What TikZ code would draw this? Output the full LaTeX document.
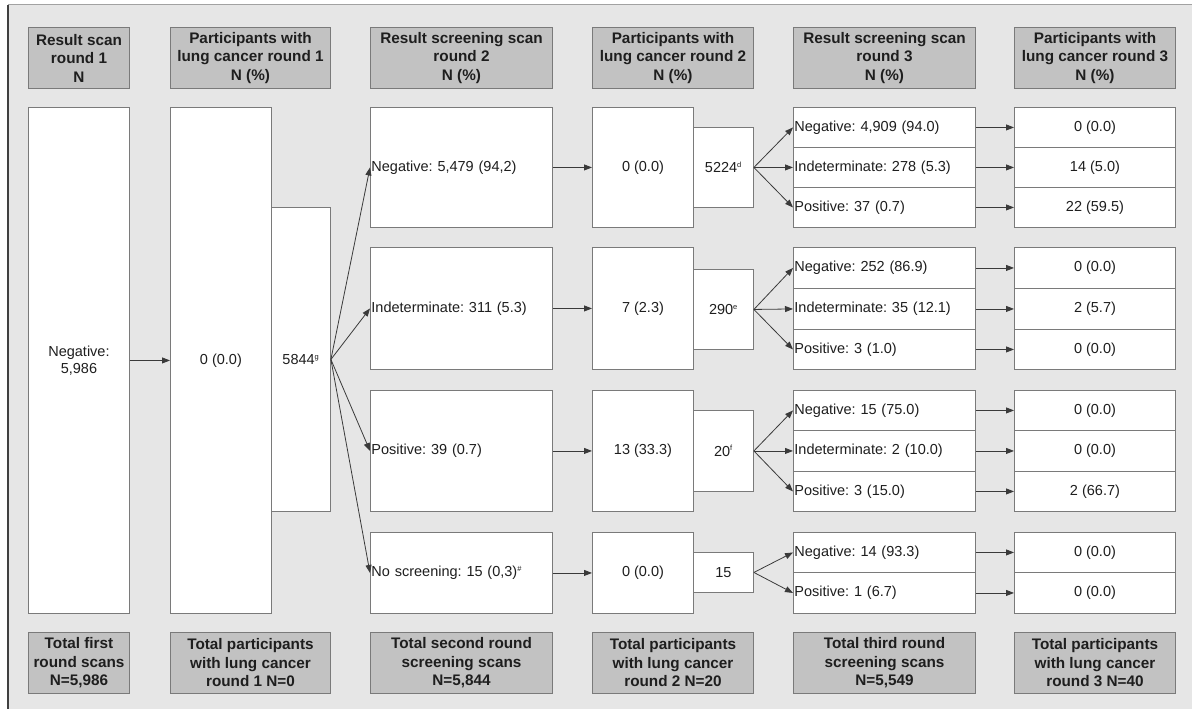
\documentclass[tikz,border=0pt]{standalone}
\usepackage{fontspec}
\setmainfont{Liberation Sans}
\usetikzlibrary{arrows.meta}
\definecolor{bg}{HTML}{E6E6E6}
\definecolor{hdrfill}{HTML}{C2C2C2}
\definecolor{edge}{HTML}{7A7A7A}
\definecolor{ink}{HTML}{1E1E1E}
\definecolor{arr}{HTML}{3A3A3A}
\frenchspacing
\newcommand{\sups}[1]{\textsuperscript{\fontsize{7.5}{7.5}\selectfont #1}}
\tikzset{
  sz/.style 2 args={minimum width=#1pt, minimum height=#2pt, anchor=north west},
  hdr/.style={draw=edge, fill=hdrfill, line width=1pt, inner sep=0pt, align=center,
    text=ink, font=\fontsize{15.3}{18.5}\selectfont\bfseries},
  wbox/.style={draw=edge, fill=white, line width=0.9pt, inner sep=0pt, align=center,
    text=ink, font=\fontsize{14.5}{17}\selectfont},
  lbox/.style={draw=edge, fill=white, line width=0.9pt, inner xsep=1pt, inner ysep=0pt,
    text width=#1pt, align=left, text=ink, font=\fontsize{14.5}{17}\selectfont},
  conn/.style={draw=arr, line width=0.8pt, -{Triangle[length=8pt,width=6pt]}}
}
\begin{document}
\begin{tikzpicture}[x=1pt,y=-1pt]
\useasboundingbox (0,0) rectangle (1192,709);
\fill[bg] (8,5) rectangle (1192,709);
\draw[edge!70, line width=1pt] (8,5) -- (1192,5);
\draw[black!75, line width=1.6pt] (8,5) -- (8,709);

% headers
\node[hdr, sz={101}{61}] (h1) at (28,27) {Result scan\\round 1\\N};
\node[hdr, sz={160}{61}] (h2) at (170,27) {Participants with\\lung cancer round 1\\N (\%)};
\node[hdr, sz={182}{61}] (h3) at (370,27) {Result screening scan\\round 2\\N (\%)};
\node[hdr, sz={161}{61}] (h4) at (592,27) {Participants with\\lung cancer round 2\\N (\%)};
\node[hdr, sz={182}{61}] (h5) at (793,27) {Result screening scan\\round 3\\N (\%)};
\node[hdr, sz={161}{61}] (h6) at (1014,27) {Participants with\\lung cancer round 3\\N (\%)};

% footers
\node[hdr, sz={101}{61}] (f1) at (28,632) {Total first\\round scans\\N=5,986};
\node[hdr, sz={160}{61}] (f2) at (170,632) {Total participants\\with lung cancer\\round 1 N=0};
\node[hdr, sz={182}{61}] (f3) at (370,632) {Total second round\\screening scans\\N=5,844};
\node[hdr, sz={161}{61}] (f4) at (592,632) {Total participants\\with lung cancer\\round 2 N=20};
\node[hdr, sz={182}{61}] (f5) at (793,632) {Total third round\\screening scans\\N=5,549};
\node[hdr, sz={161}{61}] (f6) at (1014,632) {Total participants\\with lung cancer\\round 3 N=40};

% column 1 and 2
\node[wbox, sz={101}{506}] (c1) at (28,107) {Negative:\\5,986};
\node[wbox, sz={101}{506}] (c2) at (170,107) {0 (0.0)};
\node[wbox, sz={59}{304}] (c2s) at (271,207) {5844\sups{g}};

% column 3
\node[lbox=180, sz={182}{120}] (c3a) at (370,107) {Negative: 5,479 (94,2)};
\node[lbox=180, sz={182}{122}] (c3b) at (370,247) {Indeterminate: 311 (5.3)};
\node[lbox=180, sz={182}{121}] (c3c) at (370,390) {Positive: 39 (0.7)};
\node[lbox=180, sz={182}{81}] (c3d) at (370,532) {No screening: 15 (0,3)\sups{\#}};

% column 4
\node[wbox, sz={101}{120}] (c4a) at (592,107) {0 (0.0)};
\node[wbox, sz={101}{122}] (c4b) at (592,247) {7 (2.3)};
\node[wbox, sz={101}{121}] (c4c) at (592,390) {13 (33.3)};
\node[wbox, sz={101}{81}] (c4d) at (592,532) {0 (0.0)};
\node[wbox, sz={60}{80}] (s4a) at (693,127) {5224\sups{d}};
\node[wbox, sz={60}{80}] (s4b) at (693,269) {290\sups{e}};
\node[wbox, sz={60}{81}] (s4c) at (693,410) {20\sups{f}};
\node[wbox, sz={60}{40}] (s4d) at (693,552) {15};

% column 5
\node[lbox=180, sz={182}{40}] (r1a) at (793,107) {Negative: 4,909 (94.0)};
\node[lbox=180, sz={182}{40}] (r1b) at (793,147) {Indeterminate: 278 (5.3)};
\node[lbox=180, sz={182}{40}] (r1c) at (793,187) {Positive: 37 (0.7)};
\node[lbox=180, sz={182}{41}] (r2a) at (793,247) {Negative: 252 (86.9)};
\node[lbox=180, sz={182}{41}] (r2b) at (793,288) {Indeterminate: 35 (12.1)};
\node[lbox=180, sz={182}{40}] (r2c) at (793,329) {Positive: 3 (1.0)};
\node[lbox=180, sz={182}{40}] (r3a) at (793,390) {Negative: 15 (75.0)};
\node[lbox=180, sz={182}{41}] (r3b) at (793,430) {Indeterminate: 2 (10.0)};
\node[lbox=180, sz={182}{40}] (r3c) at (793,471) {Positive: 3 (15.0)};
\node[lbox=180, sz={182}{40}] (r4a) at (793,532) {Negative: 14 (93.3)};
\node[lbox=180, sz={182}{41}] (r4b) at (793,572) {Positive: 1 (6.7)};

% column 6
\node[wbox, sz={161}{40}] (p1a) at (1014,107) {0 (0.0)};
\node[wbox, sz={161}{40}] (p1b) at (1014,147) {14 (5.0)};
\node[wbox, sz={161}{40}] (p1c) at (1014,187) {22 (59.5)};
\node[wbox, sz={161}{41}] (p2a) at (1014,247) {0 (0.0)};
\node[wbox, sz={161}{41}] (p2b) at (1014,288) {2 (5.7)};
\node[wbox, sz={161}{40}] (p2c) at (1014,329) {0 (0.0)};
\node[wbox, sz={161}{40}] (p3a) at (1014,390) {0 (0.0)};
\node[wbox, sz={161}{41}] (p3b) at (1014,430) {0 (0.0)};
\node[wbox, sz={161}{40}] (p3c) at (1014,471) {2 (66.7)};
\node[wbox, sz={161}{40}] (p4a) at (1014,532) {0 (0.0)};
\node[wbox, sz={161}{41}] (p4b) at (1014,572) {0 (0.0)};

% connectors
\draw[conn] (c1.east) -- (c2.west);
\foreach \t in {c3a,c3b,c3c,c3d} \draw[conn] (c2s.east) -- (\t.west);
\draw[conn] (c3a.east) -- (c4a.west);
\draw[conn] (c3b.east) -- (c4b.west);
\draw[conn] (c3c.east) -- (c4c.west);
\draw[conn] (c3d.east) -- (c4d.west);
\foreach \t in {r1a,r1b,r1c} \draw[conn] (s4a.east) -- (\t.west);
\foreach \t in {r2a,r2b,r2c} \draw[conn] (s4b.east) -- (\t.west);
\foreach \t in {r3a,r3b,r3c} \draw[conn] (s4c.east) -- (\t.west);
\foreach \t in {r4a,r4b} \draw[conn] (s4d.east) -- (\t.west);
\foreach \a/\b in {r1a/p1a,r1b/p1b,r1c/p1c,r2a/p2a,r2b/p2b,r2c/p2c,r3a/p3a,r3b/p3b,r3c/p3c,r4a/p4a,r4b/p4b}
  \draw[conn] (\a.east) -- (\b.west);
\end{tikzpicture}
\end{document}
